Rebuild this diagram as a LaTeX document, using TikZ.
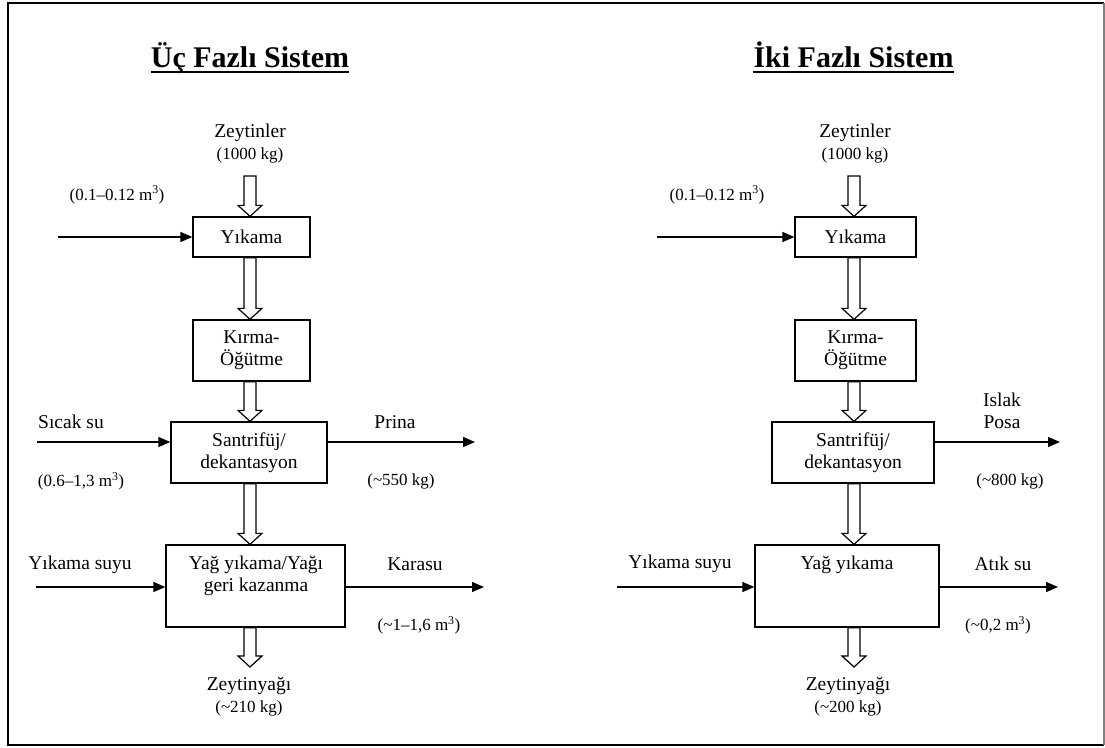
\documentclass[tikz,border=0pt]{standalone}
\usepackage{fontspec}
\setmainfont{Liberation Serif}
\usetikzlibrary{arrows.meta,calc}

\newcommand{\mainf}{\fontsize{19.5}{22}\selectfont}
\newcommand{\smallf}{\fontsize{17}{20}\selectfont}
\newcommand{\titlef}{\fontsize{30}{34}\selectfont\bfseries}

% hollow (outlined) process arrow from #1 down to #2
\newcommand{\fatarrow}[2]{%
  \draw[hollow] ($(#1)+(-6,0)$) -- ($(#2)+(-6,-11)$) -- ($(#2)+(-12,-11)$) -- (#2)
    -- ($(#2)+(12,-11)$) -- ($(#2)+(6,-11)$) -- ($(#1)+(6,0)$) -- cycle;}

\tikzset{
  box/.style={draw, line width=1.3pt, align=center, font=\mainf, inner sep=0pt},
  lbl/.style={align=center, font=\mainf, inner sep=0pt},
  note/.style={font=\smallf, inner sep=0pt},
  flow/.style={line width=1.4pt, -{Triangle[length=12pt,width=10pt]}},
  hollow/.style={line width=1.2pt, fill=white, line join=miter},
  heading/.style={font=\titlef, inner sep=0pt, anchor=base}
}

\begin{document}
\begin{tikzpicture}[x=1pt,y=-1pt]
  \useasboundingbox (0,0) rectangle (1105,747);
  % Frame
  \draw[line width=2pt] (1104,3) -- (8,3) -- (8,745) -- (1104,745);
  \draw[gray, line width=1.5pt] (1104,3) -- (1104,745);

  % ---------- Three phase system ----------
  \node[heading] (title1) at (250,67) {Üç Fazlı Sistem};
  \draw[line width=1.6pt] ($(title1.base west)+(0,5)$) -- ($(title1.base east)+(0,5)$);

  \node[lbl] (z1) at (250,144) {Zeytinler\\{\smallf (1000 kg)}};
  \coordinate (z1a) at (250,176);
  \node[note] (v1) at (117,195) {(0.1–0.12 m\textsuperscript{3})};

  \node[box, minimum width=117, minimum height=40] (yk1) at (251.5,237) {Yıkama};
  \node[box, minimum width=117, minimum height=61] (kr1) at (251.5,350.5) {Kırma-\\Öğütme};
  \node[box, minimum width=156, minimum height=61] (sn1) at (249,452.5) {Santrifüj/\\dekantasyon};
  \node[box, minimum width=179, minimum height=82] (yg1) at (255.5,586) {};
  \node[lbl] (yg1t) at (256,576) {Yağ yıkama/Yağı\\geri kazanma};
  \coordinate (c1) at (250,0);

  % Side streams
  \coordinate (w1) at (58,237);
  \draw[flow] (w1) -- (yk1.west);
  \node[lbl] (hs1) at (71,422) {Sıcak su};
  \node[note] (hv1) at (81,481) {(0.6–1,3 m\textsuperscript{3})};
  \coordinate (hsa) at (37,442);
  \draw[flow] (hsa) -- (hsa -| sn1.west);
  \node[lbl] (pr1) at (395,422) {Prina};
  \node[note] (pv1) at (401,481) {(\textasciitilde 550 kg)};
  \coordinate (pra) at (475,442);
  \draw[flow] (pra -| sn1.east) -- (pra);
  \node[lbl] (ws1) at (80,565) {Yıkama suyu};
  \coordinate (wsa) at (36,587);
  \draw[flow] (wsa) -- (wsa -| yg1.west);
  \node[lbl] (ka1) at (415,564) {Karasu};
  \node[note] (kv1) at (419,625) {(\textasciitilde 1–1,6 m\textsuperscript{3})};
  \coordinate (kaa) at (484,587);
  \draw[flow] (kaa -| yg1.east) -- (kaa);

  \node[lbl] (zy1) at (249,697) {Zeytinyağı\\{\smallf (\textasciitilde 210 kg)}};
  \coordinate (zy1a) at (250,667);

  % Main line
  \foreach \a/\b in {z1a/yk1.north, yk1.south/kr1.north, kr1.south/sn1.north,
                     sn1.south/yg1.north, yg1.south/zy1a} {
    \fatarrow{c1 |- \a}{c1 |- \b}
  }

  % ---------- Two phase system ----------
  \node[heading] (title2) at (853.5,67) {İki Fazlı Sistem};
  \draw[line width=1.6pt] ($(title2.base west)+(0,5)$) -- ($(title2.base east)+(0,5)$);

  \node[lbl] (z2) at (855,144) {Zeytinler\\{\smallf (1000 kg)}};
  \coordinate (z2a) at (855,176);
  \node[note] (v2) at (717,195) {(0.1–0.12 m\textsuperscript{3})};

  \node[box, minimum width=121, minimum height=40] (yk2) at (855.5,237) {Yıkama};
  \node[box, minimum width=121, minimum height=61] (kr2) at (855.5,350.5) {Kırma-\\Öğütme};
  \node[box, minimum width=162, minimum height=61] (sn2) at (853,452.5) {Santrifüj/\\dekantasyon};
  \node[box, minimum width=184, minimum height=82] (yg2) at (847,586) {};
  \node[lbl] (yg2t) at (847,565) {Yağ yıkama};
  \coordinate (c2) at (854,0);

  % Side streams
  \coordinate (w2) at (657,237);
  \draw[flow] (w2) -- (yk2.west);
  \node[lbl] (ip2) at (1002,411) {Islak\\Posa};
  \node[note] (iv2) at (1010,481) {(\textasciitilde 800 kg)};
  \coordinate (ipa) at (1060,442);
  \draw[flow] (ipa -| sn2.east) -- (ipa);
  \node[lbl] (ws2) at (680,564) {Yıkama suyu};
  \coordinate (wsb) at (617,587);
  \draw[flow] (wsb) -- (wsb -| yg2.west);
  \node[lbl] (at2) at (1003,564) {Atık su};
  \node[note] (av2) at (998,625) {(\textasciitilde 0,2 m\textsuperscript{3})};
  \coordinate (ata) at (1058,587);
  \draw[flow] (ata -| yg2.east) -- (ata);

  \node[lbl] (zy2) at (848,697) {Zeytinyağı\\{\smallf (\textasciitilde 200 kg)}};
  \coordinate (zy2a) at (854,667);

  % Main line
  \foreach \a/\b in {z2a/yk2.north, yk2.south/kr2.north, kr2.south/sn2.north,
                     sn2.south/yg2.north, yg2.south/zy2a} {
    \fatarrow{c2 |- \a}{c2 |- \b}
  }
\end{tikzpicture}
\end{document}
